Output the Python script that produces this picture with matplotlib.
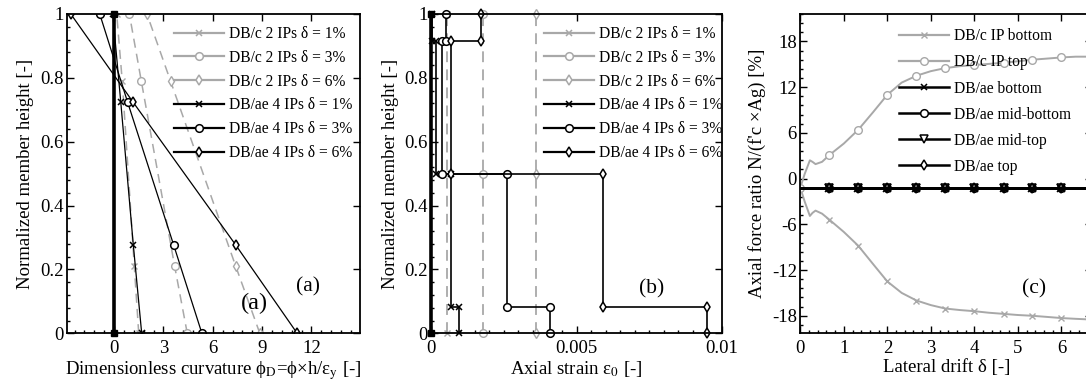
import numpy as np
import matplotlib
matplotlib.use('Agg')
import matplotlib.pyplot as plt
from matplotlib.lines import Line2D
from matplotlib.ticker import MultipleLocator, FuncFormatter

plt.rcParams['font.family'] = ['Liberation Serif', 'DejaVu Serif']
plt.rcParams['mathtext.fontset'] = 'stix'
plt.rcParams['axes.unicode_minus'] = False

GRAY = '#a8a8a8'

# ---- (a) curvature along the member ----
height_c = [0, 0.211, 0.789, 1]
curv_c_1 = [1.50, 1.23, 0.50, 0.16]
curv_c_3 = [4.45, 3.68, 1.66, 0.93]
curv_c_6 = [8.86, 7.39, 3.44, 2.00]
height_ae = [0, 0.277, 0.723, 1]
curv_ae_1 = [1.68, 1.17, 0.41, -0.08]
curv_ae_3 = [5.34, 3.62, 0.83, -0.87]
curv_ae_6 = [11.13, 7.39, 1.17, -2.63]
zero_x = [0, 0]
zero_h = [0, 1]

# ---- (b) axial strain along the member ----
height_b_c = [0, 0.5, 1]
strain_c_1 = [0.00054, 0.00054, 0.00054]
strain_c_3 = [0.00177, 0.00177, 0.00177]
strain_c_6 = [0.00361, 0.00361, 0.00361]
region_bounds = [0, 0.083, 0.5, 0.917, 1]
strain_ae_1 = [0.00096, 0.00068, 0.00016, 0.00003]
strain_ae_3 = [0.00410, 0.00261, 0.00038, 0.00050]
strain_ae_6 = [0.00948, 0.00591, 0.00068, 0.00170]

# ---- (c) axial force ratio vs drift ----
drift_c = [0, 0.1, 0.22, 0.28, 0.35, 0.5, 0.67, 1.0, 1.33, 1.67, 2.0, 2.33, 2.67,
           3.0, 3.33, 3.67, 4.0, 4.33, 4.67, 5.0, 5.33, 5.67, 6.0, 6.33, 6.7]
ratio_c_bottom = [-1.2, -3.0, -4.9, -4.5, -4.2, -4.6, -5.4, -7.0, -8.8, -11.2, -13.5,
                  -15.0, -16.0, -16.6, -17.05, -17.25, -17.4, -17.6, -17.75, -17.9,
                  -18.0, -18.15, -18.3, -18.4, -18.5]
ratio_c_top = [-1.2, 0.6, 2.4, 2.2, 1.9, 2.2, 3.1, 4.6, 6.4, 8.7, 11.0, 12.6, 13.5,
               14.1, 14.5, 14.75, 14.9, 15.05, 15.2, 15.4, 15.6, 15.75, 15.9, 16.0, 16.0]
marks_c = [0, 6, 8, 10, 12, 14, 16, 18, 20, 22]
drift_ae = [0, 0.67, 1.33, 2.0, 2.67, 3.33, 4.0, 4.67, 5.33, 6.0, 6.7]
ratio_ae_bottom = [-1.2, -1.2, -1.2, -1.2, -1.2, -1.2, -1.2, -1.2, -1.2, -1.2, -1.2]
ratio_ae_midbot = [-1.2, -1.2, -1.2, -1.2, -1.2, -1.2, -1.2, -1.2, -1.2, -1.2, -1.2]
ratio_ae_midtop = [-1.2, -1.2, -1.2, -1.2, -1.2, -1.2, -1.2, -1.2, -1.2, -1.2, -1.2]
ratio_ae_top = [-1.2, -1.2, -1.2, -1.2, -1.2, -1.2, -1.2, -1.2, -1.2, -1.2, -1.2]

labels_ab = ['DB/c 2 IPs δ = 1%', 'DB/c 2 IPs δ = 3%', 'DB/c 2 IPs δ = 6%',
             'DB/ae 4 IPs δ = 1%', 'DB/ae 4 IPs δ = 3%', 'DB/ae 4 IPs δ = 6%']
labels_c = ['DB/c IP bottom', 'DB/c IP top', 'DB/ae bottom', 'DB/ae mid-bottom',
            'DB/ae mid-top', 'DB/ae top']

W, H = 1086, 389
fig = plt.figure(figsize=(W / 100, H / 100), dpi=100)
bot, hgt = 55.7 / H, 319.3 / H
ax_a = fig.add_axes([67 / W, bot, 293 / W, hgt])
ax_b = fig.add_axes([431.3 / W, bot, 290.5 / W, hgt])
ax_c = fig.add_axes([800.3 / W, bot, 292 / W, hgt])

fmt = FuncFormatter(lambda v, p: '%g' % v)


def style_axis(ax):
    for s in ax.spines.values():
        s.set_linewidth(1.3)
    ax.tick_params(which='both', direction='in', top=True, right=True,
                   labelsize=13.5, width=1.0)
    ax.tick_params(which='major', length=5)
    ax.tick_params(which='minor', length=2.5, top=False, right=False)
    ax.tick_params(axis='x', pad=5)
    ax.tick_params(axis='y', pad=2.5)
    ax.xaxis.set_major_formatter(fmt)
    ax.yaxis.set_major_formatter(fmt)


def legend_handles(colors, markers, sizes):
    return [Line2D([], [], color=c, lw=1.6, marker=m, ms=s, mfc='white', mew=1.1)
            for c, m, s in zip(colors, markers, sizes)]


leg_colors = [GRAY, GRAY, GRAY, 'k', 'k', 'k']
leg_markers = ['x', 'o', 'd', 'x', 'o', 'd']
leg_sizes = [4, 5.5, 5, 4, 5.5, 5]

# ---------- panel (a) ----------
ax = ax_a
for xs, m, ms in [(curv_c_1, 'x', 4), (curv_c_3, 'o', 5.5), (curv_c_6, 'd', 5)]:
    ax.plot(xs, height_c, color=GRAY, lw=1.1, dashes=[6, 4], marker=m, ms=ms,
            mfc='white', mew=1.0)
for xs, m, ms in [(curv_ae_1, 'x', 4), (curv_ae_3, 'o', 5.5), (curv_ae_6, 'd', 5)]:
    ax.plot(xs, height_ae, color='k', lw=0.9, marker=m, ms=ms, mfc='white', mew=1.1)
ax.plot(zero_x, zero_h, color='k', lw=2.6, marker='s', ms=5, clip_on=False, zorder=5)
ax.set_xlim(-2.86, 14.95)
ax.set_ylim(0, 1)
ax.xaxis.set_major_locator(MultipleLocator(3))
ax.xaxis.set_minor_locator(MultipleLocator(0.6))
ax.yaxis.set_major_locator(MultipleLocator(0.2))
ax.yaxis.set_minor_locator(MultipleLocator(0.04))
style_axis(ax)
ax.set_xlabel('Dimensionless curvature ϕ$_\\mathrm{D}$=ϕ×h/ε$_\\mathrm{y}$ [-]',
              fontsize=13.5, labelpad=1)
ax.set_ylabel('Normalized member height [-]', fontsize=13.5)
ax.text(8.56, 0.094, '(a)', fontsize=17.5, ha='center', va='center')
ax.text(11.8, 0.144, '(a)', fontsize=15.5, ha='center', va='center')
ax.legend(legend_handles(leg_colors, leg_markers, leg_sizes), labels_ab,
          loc='upper left', bbox_to_anchor=(0.365, 0.962), frameon=False,
          fontsize=11.2, handlelength=3.2, handletextpad=0.33, labelspacing=0.5,
          borderpad=0, borderaxespad=0)

# ---------- panel (b) ----------
ax = ax_b
for xs, m, ms in [(strain_c_1, 'x', 4), (strain_c_3, 'o', 5.5), (strain_c_6, 'd', 5)]:
    ax.plot(xs, height_b_c, color=GRAY, lw=1.3, dashes=[6, 4], marker=m, ms=ms,
            mfc='white', mew=1.0, clip_on=False)
step_h = np.repeat(region_bounds, 2)[1:-1]
for st, m, ms in [(strain_ae_1, 'x', 4), (strain_ae_3, 'o', 5.5), (strain_ae_6, 'd', 5)]:
    ax.plot(np.repeat(st, 2), step_h, color='k', lw=1.2, marker=m, ms=ms,
            mfc='white', mew=1.1, clip_on=False)
ax.plot(zero_x, zero_h, color='k', lw=2.6, marker='s', ms=5, clip_on=False, zorder=5)
ax.set_xlim(0, 0.01)
ax.set_ylim(0, 1)
ax.xaxis.set_major_locator(MultipleLocator(0.005))
ax.xaxis.set_minor_locator(MultipleLocator(0.0005))
ax.yaxis.set_major_locator(MultipleLocator(0.2))
ax.yaxis.set_minor_locator(MultipleLocator(0.04))
style_axis(ax)
ax.set_xlabel('Axial strain ε$_0$ [-]', fontsize=13.5, labelpad=1)
ax.set_ylabel('Normalized member height [-]', fontsize=13.5)
ax.text(0.0076, 0.138, '(b)', fontsize=15.5, ha='center', va='center')
ax.legend(legend_handles(leg_colors, leg_markers, leg_sizes), labels_ab,
          loc='upper left', bbox_to_anchor=(0.387, 0.962), frameon=False,
          fontsize=11.2, handlelength=3.2, handletextpad=0.33, labelspacing=0.5,
          borderpad=0, borderaxespad=0)

# ---------- panel (c) ----------
ax = ax_c
ax.plot(drift_c, ratio_c_bottom, color=GRAY, lw=1.4, marker='x', ms=4.5,
        markevery=marks_c, mew=1.0)
ax.plot(drift_c, ratio_c_top, color=GRAY, lw=1.4, marker='o', ms=5.5,
        markevery=marks_c, mfc='white', mew=1.0)
for ys, m in [(ratio_ae_bottom, 'x'), (ratio_ae_midbot, 'o'),
              (ratio_ae_midtop, 'v'), (ratio_ae_top, 'd')]:
    ax.plot(drift_ae, ys, color='k', lw=1.8, marker=m, ms=5.5,
            markevery=slice(1, 10), mfc='none', mew=1.1)
ax.set_xlim(0, 6.71)
ax.set_ylim(-20.3, 21.6)
ax.xaxis.set_major_locator(MultipleLocator(1))
ax.xaxis.set_minor_locator(MultipleLocator(0.2))
ax.yaxis.set_major_locator(MultipleLocator(6))
ax.yaxis.set_minor_locator(MultipleLocator(1.2))
style_axis(ax)
ax.set_xlabel('Lateral drift δ [-]', fontsize=13.5, labelpad=1)
ax.set_ylabel("Axial force ratio N/(f'c ×Ag) [%]", fontsize=13.5)
ax.text(5.37, -14.5, '(c)', fontsize=15.5, ha='center', va='center')
handles_c = [Line2D([], [], color=GRAY, lw=1.6, marker='x', ms=4, mew=1.0),
             Line2D([], [], color=GRAY, lw=1.6, marker='o', ms=5.5, mfc='white', mew=1.0),
             Line2D([], [], color='k', lw=1.8, marker='x', ms=4, mew=1.1),
             Line2D([], [], color='k', lw=1.8, marker='o', ms=5.5, mfc='white', mew=1.1),
             Line2D([], [], color='k', lw=1.8, marker='v', ms=5.5, mfc='white', mew=1.1),
             Line2D([], [], color='k', lw=1.8, marker='d', ms=5.5, mfc='white', mew=1.1)]
ax.legend(handles_c, labels_c, loc='upper left', bbox_to_anchor=(0.338, 0.955),
          frameon=False, fontsize=11.2, handlelength=3.2, handletextpad=0.33,
          labelspacing=0.65, borderpad=0, borderaxespad=0)

fig.savefig('out.png', dpi=100)
